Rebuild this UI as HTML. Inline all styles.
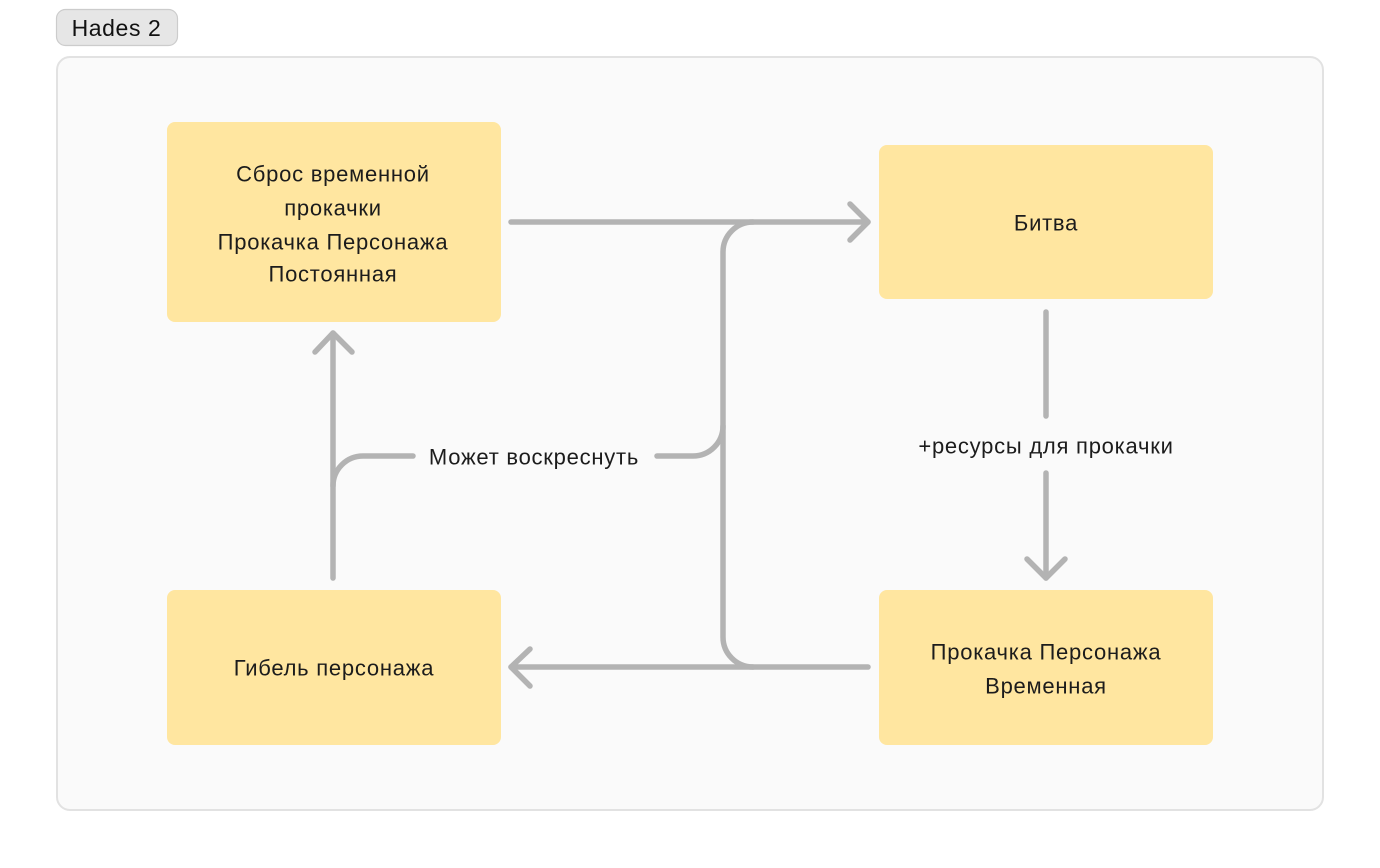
<!DOCTYPE html>
<html>
<head>
<meta charset="utf-8">
<style>
  html, body { margin: 0; padding: 0; background: #ffffff; }
  body { width: 1380px; height: 868px; overflow: hidden; position: relative; }
  svg { position: absolute; left: 0; top: 0; }
  text { font-family: "Liberation Sans", "Noto Sans CJK SC", sans-serif; fill: #1c1c1c; font-size: 22px; letter-spacing: 0.75px; }
</style>
</head>
<body>
<svg width="1380" height="868" viewBox="0 0 1380 868" xmlns="http://www.w3.org/2000/svg">
  <!-- title badge -->
  <rect x="56.5" y="9.5" width="121" height="36" rx="9" fill="#e6e6e6" stroke="#cccccc" stroke-width="1.2"/>
  <text x="116.5" y="28" text-anchor="middle" dominant-baseline="central" style="font-size:23px;letter-spacing:0.6px;fill:#111">Hades 2</text>

  <!-- container -->
  <rect x="57" y="57" width="1266" height="753" rx="13" fill="#fafafa" stroke="#e2e2e2" stroke-width="2"/>

  <!-- boxes -->
  <rect x="167" y="122" width="334" height="200" rx="8" fill="#ffe6a0"/>
  <rect x="879" y="145" width="334" height="154" rx="8" fill="#ffe6a0"/>
  <rect x="167" y="590" width="334" height="155" rx="8" fill="#ffe6a0"/>
  <rect x="879" y="590" width="334" height="155" rx="8" fill="#ffe6a0"/>

  <!-- box texts -->
  <text x="333" y="174" text-anchor="middle" dominant-baseline="central">Сброс временной</text>
  <text x="333" y="208" text-anchor="middle" dominant-baseline="central">прокачки</text>
  <text x="333" y="242" text-anchor="middle" dominant-baseline="central">Прокачка Персонажа</text>
  <text x="333" y="274" text-anchor="middle" dominant-baseline="central">Постоянная</text>

  <text x="1046" y="223" text-anchor="middle" dominant-baseline="central">Битва</text>

  <text x="334" y="668" text-anchor="middle" dominant-baseline="central">Гибель персонажа</text>

  <text x="1046" y="652" text-anchor="middle" dominant-baseline="central">Прокачка Персонажа</text>
  <text x="1046" y="686" text-anchor="middle" dominant-baseline="central">Временная</text>

  <!-- connectors -->
  <g fill="none" stroke="#b3b3b3" stroke-width="5.5" stroke-linecap="round" stroke-linejoin="round">
    <!-- top arrow to Битва -->
    <path d="M511 222 H868"/>
    <path d="M850 204 L868 222 L850 240"/>
    <!-- big vertical with curves -->
    <path d="M753 222 A30 30 0 0 0 723 252 V637 A30 30 0 0 0 753 667"/>
    <!-- bottom arrow to Гибель -->
    <path d="M868 667 H511"/>
    <path d="M530 649 L511 667 L530 686"/>
    <!-- left vertical up to Сброс -->
    <path d="M333 578 V333"/>
    <path d="M315 352 L333 333 L352 352"/>
    <!-- Может воскреснуть left piece -->
    <path d="M413 456 H363 A30 30 0 0 0 333 486"/>
    <!-- right piece -->
    <path d="M657 456 H693 A30 30 0 0 0 723 426"/>
    <!-- right vertical -->
    <path d="M1046 312 V416"/>
    <path d="M1046 473 V578"/>
    <path d="M1027 559 L1046 578 L1065 559"/>
  </g>

  <!-- connector labels -->
  <text x="534" y="457" text-anchor="middle" dominant-baseline="central">Может воскреснуть</text>
  <text x="1046" y="446" text-anchor="middle" dominant-baseline="central">+ресурсы для прокачки</text>
</svg>
</body>
</html>
